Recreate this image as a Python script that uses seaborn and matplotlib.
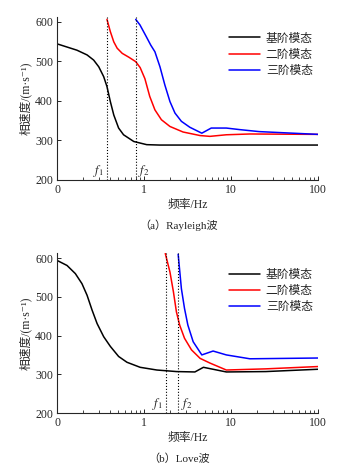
import numpy as np
import pandas as pd
import matplotlib
matplotlib.use("Agg")
import matplotlib.pyplot as plt
import seaborn as sns
from matplotlib.ticker import FixedLocator, FixedFormatter, LogLocator, NullFormatter

# ---------------- data ----------------
modes = ["基阶模态", "二阶模态", "三阶模态"]
colors = ["black", "red", "blue"]

# Rayleigh
ray_f0 = [0.1, 0.169, 0.221, 0.263, 0.301, 0.343, 0.374, 0.409, 0.448, 0.509, 0.58, 0.76, 1.07, 1.5, 3.0, 10.0, 100.0]
ray_v0 = [544, 528, 516, 503, 486, 461, 436, 398, 364, 331, 314, 297, 289, 288, 288, 288, 288]
ray_f1 = [0.374, 0.409, 0.448, 0.49, 0.56, 0.67, 0.80, 0.90, 1.02, 1.16, 1.33, 1.58, 1.98, 2.8, 4.4, 5.7, 8.8, 16.4, 100.0]
ray_v1 = [606, 575, 549, 533, 520, 510, 499, 484, 456, 411, 377, 352, 335, 321, 312, 310, 314, 316, 315]
ray_f2 = [0.80, 0.895, 1.06, 1.19, 1.33, 1.52, 1.73, 1.98, 2.26, 2.68, 3.35, 4.6, 5.9, 8.8, 12.6, 21.0, 100.0]
ray_v2 = [606, 592, 562, 541, 524, 486, 440, 398, 369, 348, 333, 318, 331, 331, 327, 322, 315]
ray_cut = [0.374, 0.80]

# Love
love_f0 = [0.1, 0.13, 0.162, 0.193, 0.221, 0.252, 0.288, 0.343, 0.409, 0.509, 0.635, 0.90, 1.40, 2.35, 3.83, 4.8, 8.8, 25.0, 100.0]
love_v0 = [594, 581, 560, 534, 504, 466, 431, 397, 372, 346, 331, 318, 311, 307, 306, 318, 306, 307, 313]
love_f1 = [1.75, 1.98, 2.17, 2.35, 2.56, 2.91, 3.5, 4.4, 5.7, 8.8, 25.0, 100.0]
love_v1 = [612, 564, 513, 461, 427, 393, 363, 341, 329, 311, 314, 320]
love_f2 = [2.46, 2.68, 2.91, 3.18, 3.66, 4.6, 6.2, 8.8, 16.4, 100.0]
love_v2 = [610, 521, 470, 427, 384, 350, 360, 350, 340, 342]
love_cut = [1.78, 2.48]

xticks = [0.1, 1, 10, 100]
xticklabels = ["0", "1", "10", "100"]
yticks = [200, 300, 400, 500, 600]

# ---------------- style ----------------
sns.set_style("ticks")
plt.rcParams["font.family"] = ["Liberation Serif", "Noto Sans CJK SC", "DejaVu Sans"]
plt.rcParams["mathtext.fontset"] = "stix"
plt.rcParams["axes.unicode_minus"] = False

fig = plt.figure(figsize=(3.44, 4.72), dpi=100)
ax1 = fig.add_axes([0.166, 0.619, 0.759, 0.345])
ax2 = fig.add_axes([0.166, 0.125, 0.759, 0.338])


def build(fs, vs):
    rows = []
    for m, f, v in zip(modes, fs, vs):
        for a, b in zip(f, v):
            rows.append({"f": a, "v": b, "mode": m})
    return pd.DataFrame(rows)


def draw(ax, df, cuts, caption, cap_y):
    sns.lineplot(data=df, x="f", y="v", hue="mode", hue_order=modes,
                 palette=colors, linewidth=1.1, ax=ax, sort=False,
                 estimator=None)
    ax.set_xscale("log")
    ax.set_xlim(0.1, 100)
    ax.set_ylim(200, 612)
    ax.xaxis.set_major_locator(FixedLocator(xticks))
    ax.xaxis.set_major_formatter(FixedFormatter(xticklabels))
    ax.xaxis.set_minor_locator(LogLocator(base=10, subs=np.arange(2, 10)))
    ax.xaxis.set_minor_formatter(NullFormatter())
    ax.yaxis.set_major_locator(FixedLocator(yticks))
    ax.tick_params(axis="both", which="major", direction="in", length=3,
                   width=0.7, labelsize=8.5, pad=3)
    ax.tick_params(axis="x", which="minor", direction="in", length=2, width=0.6)
    ax.tick_params(axis="y", which="minor", left=False)
    for s in ["top", "right"]:
        ax.spines[s].set_visible(False)
    for s in ["left", "bottom"]:
        ax.spines[s].set_linewidth(0.8)
    ax.set_xlabel("频率/Hz", fontsize=8.5, labelpad=2)
    ax.set_ylabel("相速度/(m·s⁻¹)", fontsize=8.5, labelpad=2)
    for i, c in enumerate(cuts):
        ax.axvline(c, color="black", linestyle=":", linewidth=0.8)
        if i == 0:
            ax.text(c * 0.93, 203, "$f_1$", ha="right", va="bottom", fontsize=9)
        else:
            ax.text(c * 1.06, 203, "$f_2$", ha="left", va="bottom", fontsize=9)
    ax.legend(loc="upper right", bbox_to_anchor=(1.02, 0.97), frameon=False,
              fontsize=8.5, handlelength=2.6, handletextpad=0.5,
              labelspacing=0.35)
    fig.text(0.52, cap_y, caption, ha="center", va="center", fontsize=8)


draw(ax1, build([ray_f0, ray_f1, ray_f2], [ray_v0, ray_v1, ray_v2]), ray_cut,
     "（a）Rayleigh波", 1 - 225 / 472)
draw(ax2, build([love_f0, love_f1, love_f2], [love_v0, love_v1, love_v2]), love_cut,
     "（b）Love波", 1 - 459 / 472)

fig.savefig("out.png", dpi=100)
